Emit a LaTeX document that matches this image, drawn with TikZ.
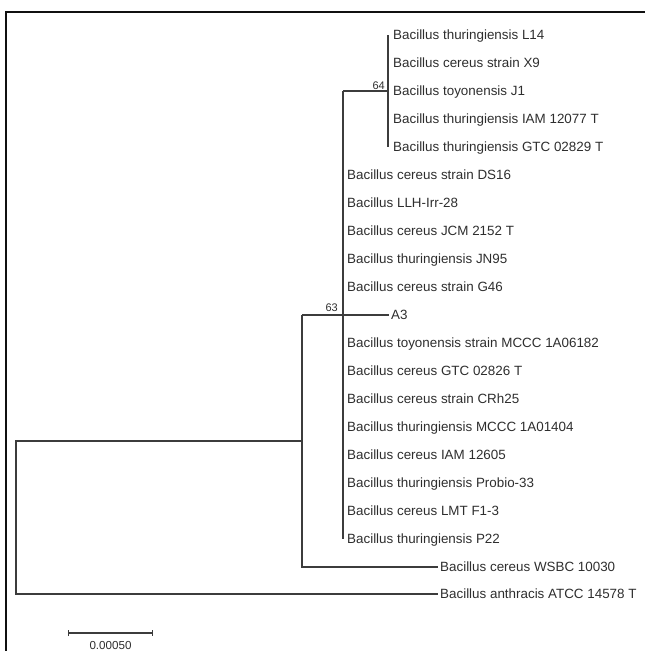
\documentclass[tikz,border=0pt]{standalone}
\usepackage{fontspec}
\setmainfont{Liberation Sans}
\usetikzlibrary{arrows.meta, positioning}
\definecolor{Branch}{HTML}{3C3C3C}
\definecolor{TxtLeaf}{HTML}{2E2E2E}
\definecolor{FrameLine}{HTML}{101010}

\begin{document}
\begin{tikzpicture}[
      x=1pt, y=-1pt,
      leaf/.style={anchor=west, inner xsep=2pt, inner ysep=0pt, text height=9.6pt,
                   text depth=0pt, font=\fontsize{13.4}{15}\selectfont, text=TxtLeaf},
      boot/.style={inner sep=0pt, text height=8pt, text depth=0pt,
                   font=\fontsize{11}{13}\selectfont, text=TxtLeaf},
      scalelbl/.style={inner sep=0pt, text height=8.3pt, text depth=0pt,
                       font=\fontsize{11.6}{13}\selectfont, text=TxtLeaf},
      branch/.style={draw=Branch, line width=1.1pt},
      scalebar/.style={{Bar[width=6pt]}-{Bar[width=6pt]}, draw=Branch, line width=1.3pt},
      frameline/.style={draw=FrameLine, line width=1.8pt}
    ]

    \useasboundingbox (0,0) rectangle (645,651);
    \draw[frameline] (6,651) |- (645,12);

    \coordinate (root) at (16,441);
    \coordinate (nA)   at (302,441);
    \coordinate (n63)  at (343,315);
    \coordinate (n64)  at (388,91);

    \node[leaf] (l14)   at (391,35)  {Bacillus thuringiensis L14};
    \node[leaf] (x9)    at (391,63)  {Bacillus cereus strain X9};
    \node[leaf] (j1)    at (391,91)  {Bacillus toyonensis J1};
    \node[leaf] (iam77) at (391,119) {Bacillus thuringiensis IAM 12077 T};
    \node[leaf] (gtc29) at (391,147) {Bacillus thuringiensis GTC 02829 T};

    \node[leaf] (ds16)  at (345,175) {Bacillus cereus strain DS16};
    \node[leaf] (llh)   at (345,203) {Bacillus LLH-Irr-28};
    \node[leaf] (jcm)   at (345,231) {Bacillus cereus JCM 2152 T};
    \node[leaf] (jn95)  at (345,259) {Bacillus thuringiensis JN95};
    \node[leaf] (g46)   at (345,287) {Bacillus cereus strain G46};
    \node[leaf] (a3)    at (389,315) {A3};
    \node[leaf] (mccc82) at (345,343) {Bacillus toyonensis strain MCCC 1A06182};
    \node[leaf] (gtc26) at (345,371) {Bacillus cereus GTC 02826 T};
    \node[leaf] (crh25) at (345,399) {Bacillus cereus strain CRh25};
    \node[leaf] (mccc04) at (345,427) {Bacillus thuringiensis MCCC 1A01404};
    \node[leaf] (iam05) at (345,455) {Bacillus cereus IAM 12605};
    \node[leaf] (probio) at (345,483) {Bacillus thuringiensis Probio-33};
    \node[leaf] (lmt)   at (345,511) {Bacillus cereus LMT F1-3};
    \node[leaf] (p22)   at (345,539) {Bacillus thuringiensis P22};

    \node[leaf] (wsbc)  at (438,567) {Bacillus cereus WSBC 10030};
    \node[leaf] (anth)  at (438,594) {Bacillus anthracis ATCC 14578 T};

    \node[boot, above left=1pt and 3pt of n64] (b64) {64};
    \node[boot, above left=3pt and 5pt of n63] (b63) {63};

    % tree
    \draw[branch] (l14.west -| n64) -- (gtc29.west -| n64);
    \draw[branch] (n64 -| n63) -- (n64);
    \draw[branch] (n64 -| n63) -- (p22.west -| n63);
    \draw[branch] (n63) -- (a3.west);
    \draw[branch] (nA |- n63) -- (n63);
    \draw[branch] (nA |- n63) |- (wsbc.west);
    \draw[branch] (nA) -- (root) |- (anth.west);

    % scale
    \coordinate (sbL) at (68,633);
    \coordinate (sbR) at (153,633);
    \coordinate (sbM) at (110.5,633);
    \draw[scalebar] (sbL) -- (sbR);
    \node[scalelbl, below=8pt of sbM] (sblbl) {0.00050};

  \end{tikzpicture}
\end{document}
